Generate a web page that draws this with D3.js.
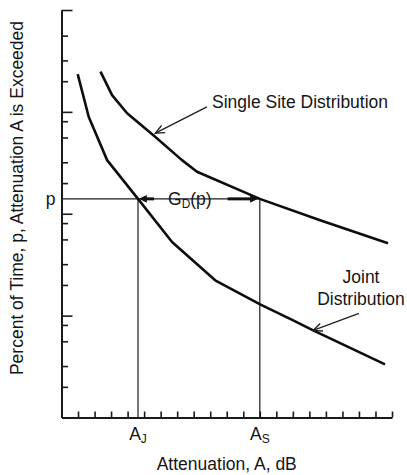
<!DOCTYPE html>
<html>
<head>
<meta charset="utf-8">
<script src="https://cdn.jsdelivr.net/npm/d3@7"></script>
<style>
  html, body { margin: 0; padding: 0; background: #fff; }
  svg { display: block; }
  text { font-family: "Liberation Sans", Arial, sans-serif; fill: #151515; }
</style>
</head>
<body>
<div id="chart"></div>
<script>
// curves (attenuation in dB, percent of time)
var jointA = [0.98, 1.65, 2.76, 4.63, 6.69, 9.30, 12.02, 14.02, 15.23, 19.58];
var jointP = [2.35, 0.89, 0.336, 0.14, 0.0528, 0.0222, 0.0129, 0.00897, 0.00716, 0.00332];
var singleA = [2.36, 3.06, 3.97, 5.56, 7.29, 8.20, 12.0, 15.65, 19.76];
var singleP = [2.48, 1.46, 0.97, 0.59, 0.336, 0.258, 0.14, 0.0863, 0.0513];

// reference level and the two attenuations it gives
var pLevel = 0.14;
var aJoint = 4.63;
var aSingle = 12.0;

// tick values
var xTicks = d3.range(1, 21);
var yMajor = [0.01, 0.1, 1, 10];
var yMinor = [0.002, 0.0032, 0.0056, 0.0081,
              0.02, 0.032, 0.056, 0.081,
              0.2, 0.32, 0.56, 0.81,
              2, 3.2, 5.6];

var width = 407, height = 475;
var x0 = 61.5, x1 = 392, yBottom = 417.5, yTop = 10;

var svg = d3.select('#chart').append('svg')
    .attr('width', width)
    .attr('height', height);

var x = d3.scaleLinear().domain([0, 20]).range([x0, x1]);
var y = d3.scaleLog().domain([0.001, 10]).range([yBottom, yTop]);

// axes, ticks pointing inward
var yAxisMajor = d3.axisRight(y).tickValues(yMajor).tickSize(11).tickSizeOuter(0).tickFormat('');
var yAxisMinor = d3.axisRight(y).tickValues(yMinor).tickSize(6.5).tickSizeOuter(0).tickFormat('');
var xAxis = d3.axisTop(x).tickValues(xTicks).tickSize(6).tickSizeOuter(0).tickFormat('');

var gy1 = svg.append('g').attr('transform', 'translate(' + x0 + ',0)').call(yAxisMajor);
var gy2 = svg.append('g').attr('transform', 'translate(' + x0 + ',0)').call(yAxisMinor);
var gx = svg.append('g').attr('transform', 'translate(0,' + yBottom + ')').call(xAxis);
gy2.select('.domain').remove();
[gy1, gy2, gx].forEach(function(g){
  g.select('.domain').attr('stroke', '#1a1a1a').attr('stroke-width', 2);
  g.selectAll('.tick line').attr('stroke', '#1a1a1a').attr('stroke-width', 1.6);
});

// guide lines for p, A_J and A_S
var guides = svg.append('g').attr('stroke', '#1a1a1a').attr('stroke-width', 1.2);
guides.append('line')
  .attr('x1', x(0)).attr('x2', x(aSingle))
  .attr('y1', y(pLevel)).attr('y2', y(pLevel));
[aJoint, aSingle].forEach(function(a){
  guides.append('line')
    .attr('x1', x(a)).attr('x2', x(a))
    .attr('y1', y(pLevel)).attr('y2', yBottom);
});

// the two distributions
var line = d3.line()
  .x(function(d){ return x(d[0]); })
  .y(function(d){ return y(d[1]); });

var jointData = d3.zip(jointA, jointP);
var singleData = d3.zip(singleA, singleP);

svg.selectAll('path.curve')
  .data([jointData, singleData])
  .enter().append('path')
  .attr('class', 'curve')
  .attr('d', line)
  .attr('fill', 'none')
  .attr('stroke', '#0d0d0d')
  .attr('stroke-width', 2.6)
  .attr('stroke-linejoin', 'round');

// arrows
function arrow(from, to, opts){
  var fx = x(from[0]), fy = y(from[1]), tx = x(to[0]), ty = y(to[1]);
  var ang = Math.atan2(ty - fy, tx - fx);
  var L = opts.head, W = opts.half;
  var bx = tx - L * Math.cos(ang), by = ty - L * Math.sin(ang);
  var px = -Math.sin(ang) * W, py = Math.cos(ang) * W;
  var g = svg.append('g');
  if (opts.filled) {
    g.append('line')
      .attr('x1', fx).attr('y1', fy).attr('x2', bx + 1 * Math.cos(ang)).attr('y2', by + 1 * Math.sin(ang))
      .attr('stroke', '#111').attr('stroke-width', opts.w);
    g.append('path')
      .attr('d', 'M' + tx + ',' + ty + 'L' + (bx + px) + ',' + (by + py) + 'L' + (bx - px) + ',' + (by - py) + 'Z')
      .attr('fill', '#111');
  } else {
    g.append('line')
      .attr('x1', fx).attr('y1', fy).attr('x2', tx).attr('y2', ty)
      .attr('stroke', '#222').attr('stroke-width', opts.w);
    g.append('path')
      .attr('d', 'M' + (bx + px) + ',' + (by + py) + 'L' + tx + ',' + ty + 'L' + (bx - px) + ',' + (by - py))
      .attr('fill', 'none').attr('stroke', '#222').attr('stroke-width', opts.w)
      .attr('stroke-linejoin', 'miter');
  }
}

arrow([8.80, 1.12], [5.68, 0.618], { head: 9, half: 4, w: 1.4 });
arrow([18.0, 0.0105], [15.23, 0.00716], { head: 9, half: 4, w: 1.4 });
arrow([5.60, pLevel], [aJoint + 0.05, pLevel], { head: 8, half: 3.8, w: 3, filled: true });
arrow([10.05, pLevel], [aSingle - 0.1, pLevel], { head: 8, half: 3.8, w: 3, filled: true });

// labels
var fs = 17.5;
svg.append('text')
  .attr('x', 212).attr('y', 108)
  .style('font-size', fs + 'px')
  .text('Single Site Distribution');

var jt = svg.append('text')
  .attr('text-anchor', 'middle')
  .style('font-size', fs + 'px');
jt.append('tspan').attr('x', 361).attr('y', 283).text('Joint');
jt.append('tspan').attr('x', 361).attr('y', 305).text('Distribution');

svg.append('text')
  .attr('x', x0 - 6).attr('y', y(pLevel) + 6)
  .attr('text-anchor', 'end')
  .style('font-size', fs + 'px')
  .text('p');

var gd = svg.append('text')
  .attr('x', 168).attr('y', y(pLevel) + 6)
  .style('font-size', fs + 'px');
gd.append('tspan').text('G');
gd.append('tspan').attr('dy', 3).style('font-size', '12px').text('D');
gd.append('tspan').attr('dy', -3).text('(p)');

[[aJoint, 'J'], [aSingle, 'S']].forEach(function(d){
  var t = svg.append('text')
    .attr('x', x(d[0])).attr('y', 440)
    .attr('text-anchor', 'middle')
    .style('font-size', fs + 'px');
  t.append('tspan').text('A');
  t.append('tspan').attr('dy', 3).style('font-size', '12px').text(d[1]);
});

svg.append('text')
  .attr('x', (x0 + x1) / 2).attr('y', 470)
  .attr('text-anchor', 'middle')
  .style('font-size', fs + 'px')
  .text('Attenuation, A, dB');

svg.append('text')
  .attr('transform', 'translate(23,198) rotate(-90)')
  .attr('text-anchor', 'middle')
  .style('font-size', fs + 'px')
  .text('Percent of Time, p, Attenuation A is Exceeded');
</script>
</body>
</html>
